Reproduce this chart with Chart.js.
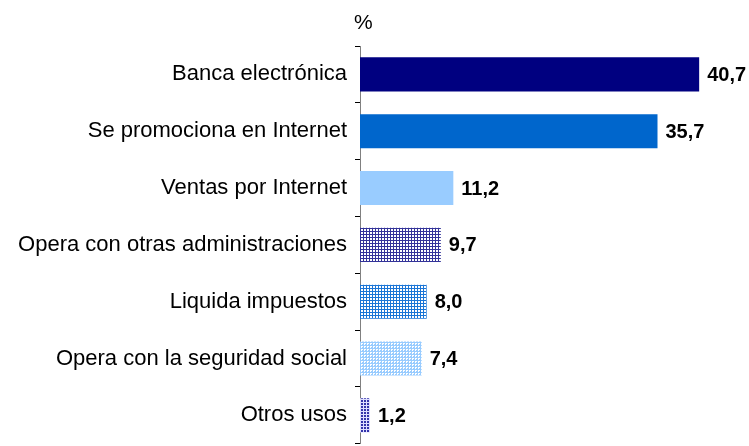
<!DOCTYPE html>
<html>
<head>
<meta charset="utf-8">
<script src="https://cdn.jsdelivr.net/npm/chart.js@4/dist/chart.umd.min.js"></script>
<style>
  html, body { margin: 0; padding: 0; background: #fff; overflow: hidden; }
  #wrap { width: 749px; height: 465px; position: relative; }
</style>
</head>
<body>
<div id="wrap"><canvas id="myChart"></canvas></div>
<script>
const categories = [
  'Banca electrónica',
  'Se promociona en Internet',
  'Ventas por Internet',
  'Opera con otras administraciones',
  'Liquida impuestos',
  'Opera con la seguridad social',
  'Otros usos'
];
const values = [40.7, 35.7, 11.2, 9.7, 8.0, 7.4, 1.2];
const unitLabel = '%';

// small tiled fills like the hatched bars of the original
function makePattern(fg, bg, size, holes) {
  const c = document.createElement('canvas');
  c.width = size;
  c.height = size;
  const g = c.getContext('2d');
  g.fillStyle = fg;
  g.fillRect(0, 0, size, size);
  g.fillStyle = bg;
  holes.forEach(h => g.fillRect(h[0], h[1], h[2], h[3]));
  return g.createPattern(c, 'repeat');
}

const checker = [[1, 1, 2, 2]];
const fills = [
  '#000080',
  '#0066CC',
  '#99CCFF',
  makePattern('#333399', '#ffffff', 3, checker),
  makePattern('#1A75D6', '#ffffff', 3, checker),
  makePattern('#99CCFF', '#ffffff', 3, [[1, 1, 2, 1], [1, 2, 1, 1]]),
  makePattern('#3333AA', '#DDDDFF', 3, [[0, 0, 3, 1], [0, 0, 1, 3]])
];

const font = '"Liberation Sans", Arial, sans-serif';

const valueLabels = {
  id: 'valueLabels',
  afterDatasetsDraw(chart) {
    const ctx = chart.ctx;
    const meta = chart.getDatasetMeta(0);
    ctx.save();
    ctx.font = 'bold 20px ' + font;
    ctx.fillStyle = '#000';
    ctx.textBaseline = 'middle';
    ctx.textAlign = 'left';
    meta.data.forEach((bar, i) => {
      ctx.fillText(values[i].toFixed(1).replace('.', ','), bar.x + 8, bar.y + 1);
    });
    ctx.font = '21px ' + font;
    ctx.fillText(unitLabel, chart.chartArea.left - 6, 23);
    ctx.restore();
  }
};

const chartLayout = document.getElementById('myChart');

const myChart = new Chart(chartLayout, {
  type: 'bar',
  data: {
    labels: categories,
    datasets: [{
      label: unitLabel,
      data: values,
      backgroundColor: fills,
      borderWidth: 0,
      barPercentage: 0.6,
      categoryPercentage: 1
    }]
  },
  options: {
    indexAxis: 'y',
    responsive: true,
    maintainAspectRatio: false,
    animation: false,
    layout: {
      padding: { top: 46, right: 14, bottom: 0, left: 0 }
    },
    plugins: {
      legend: { display: false },
      tooltip: { enabled: false }
    },
    scales: {
      x: {
        display: false,
        min: 0,
        max: 45
      },
      y: {
        afterFit(scale) {
          scale.width = 360;
        },
        border: { display: true, color: '#808080', width: 1 },
        grid: {
          offset: true,
          drawOnChartArea: false,
          drawTicks: true,
          tickLength: 5,
          color: '#000'
        },
        ticks: {
          color: '#000',
          padding: 8,
          font: { family: font, size: 22 }
        }
      }
    }
  },
  plugins: [valueLabels]
});
</script>
</body>
</html>
